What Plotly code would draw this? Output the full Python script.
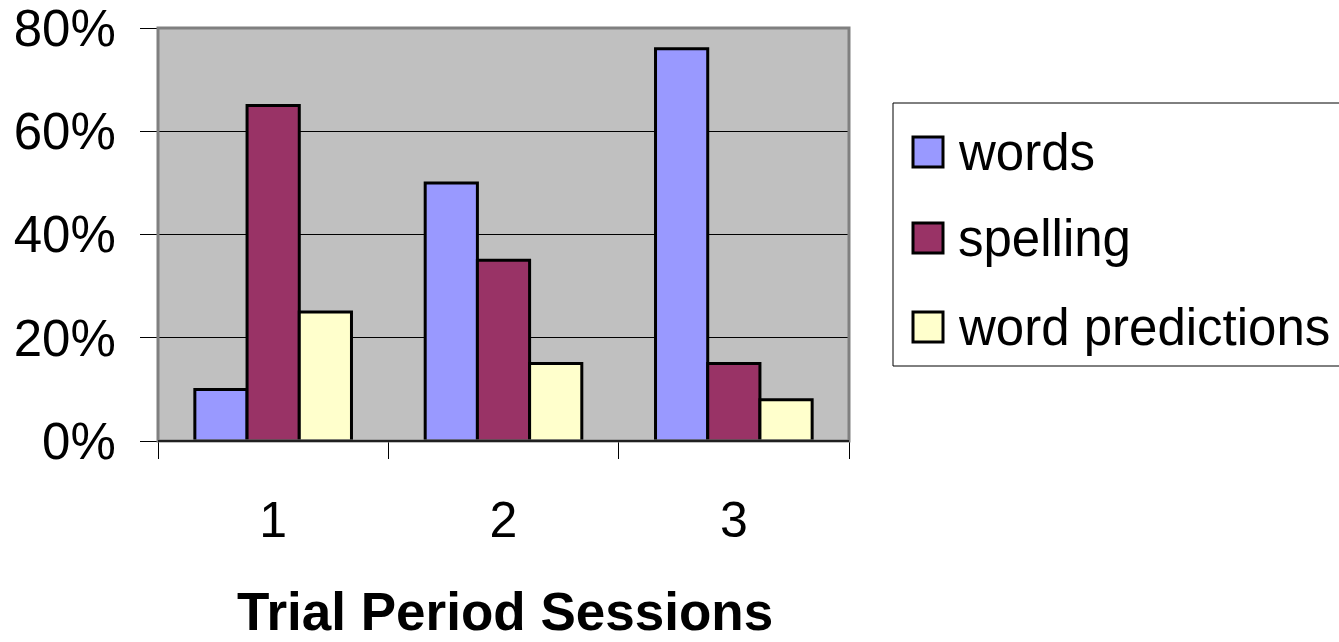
import plotly.graph_objects as go

categories = ["1", "2", "3"]
words = [0.10, 0.50, 0.76]
spelling = [0.65, 0.35, 0.15]
word_predictions = [0.25, 0.15, 0.08]
series_names = ["words", "spelling", "word predictions"]
series_colors = ["#9999FF", "#993366", "#FFFFCC"]
y_ticks = [0, 0.2, 0.4, 0.6, 0.8]
y_tick_labels = ["0%", "20%", "40%", "60%", "80%"]
x_title = "Trial Period Sessions"

W, H = 1339, 642
L, R, T, B = 158, 849, 28, 441  # plot area in pixels
FONT = "Liberation Sans, Arial, sans-serif"

fig = go.Figure()
for name, vals, col in zip(series_names, [words, spelling, word_predictions], series_colors):
    fig.add_trace(go.Bar(
        x=categories, y=vals, name=name,
        marker=dict(color=col, line=dict(color="black", width=3)),
        showlegend=False,
    ))

def px_x(p):
    return (p - L) / (R - L)

def px_y(p):
    return (B - p) / (B - T)

shapes = []
annotations = []
# plot border (gray)
shapes.append(dict(type="rect", xref="paper", yref="paper", x0=0, x1=1, y0=0, y1=1,
                   line=dict(color="#808080", width=3), fillcolor="rgba(0,0,0,0)", layer="above"))
# x axis line (black) at zero
shapes.append(dict(type="line", xref="paper", yref="paper", x0=0, x1=1, y0=0, y1=0,
                   line=dict(color="black", width=1.5), layer="above"))
# legend box
shapes.append(dict(type="rect", xref="paper", yref="paper",
                   x0=px_x(893), x1=px_x(1360), y0=px_y(366), y1=px_y(103),
                   line=dict(color="black", width=1), fillcolor="white"))
centers = [152, 238, 327]
for name, col, cy in zip(series_names, series_colors, centers):
    shapes.append(dict(type="rect", xref="paper", yref="paper",
                       x0=px_x(913), x1=px_x(943), y0=px_y(cy + 15), y1=px_y(cy - 15),
                       line=dict(color="black", width=3), fillcolor=col))
    annotations.append(dict(text=name, xref="paper", yref="paper", x=px_x(956), y=px_y(cy),
                            xanchor="left", yanchor="middle", showarrow=False,
                            font=dict(family=FONT, size=51, color="black")))

annotations.append(dict(text="<b>" + x_title + "</b>", xref="paper", yref="paper",
                        x=px_x(505), y=px_y(611), xanchor="center", yanchor="middle",
                        showarrow=False, font=dict(family=FONT, size=53, color="black")))

fig.update_layout(
    width=W, height=H,
    margin=dict(l=L, r=W - R, t=T, b=H - B, pad=0),
    paper_bgcolor="white", plot_bgcolor="#C0C0C0",
    barmode="group", bargap=0.32, bargroupgap=0,
    font=dict(family=FONT, size=50, color="black"),
    shapes=shapes, annotations=annotations,
    xaxis=dict(type="category", tickson="boundaries", ticks="outside", ticklen=17,
               tickwidth=1, tickcolor="black", showgrid=False, showline=False,
               automargin=False, ticklabeloverflow="allow",
               ticklabelstandoff=45, tickfont=dict(family=FONT, size=50)),
    yaxis=dict(range=[0, 0.8], tickvals=y_ticks, ticktext=y_tick_labels,
               ticks="outside", ticklen=17, tickwidth=1, tickcolor="black",
               showgrid=True, gridcolor="black", gridwidth=1, zeroline=False,
               automargin=False, ticklabeloverflow="allow",
               showline=False, ticklabelstandoff=14, tickfont=dict(family=FONT, size=51)),
)

fig.write_html("out.html", config={"displayModeBar": False},
               post_script="document.body.style.margin='0';document.body.style.overflow='hidden';")
